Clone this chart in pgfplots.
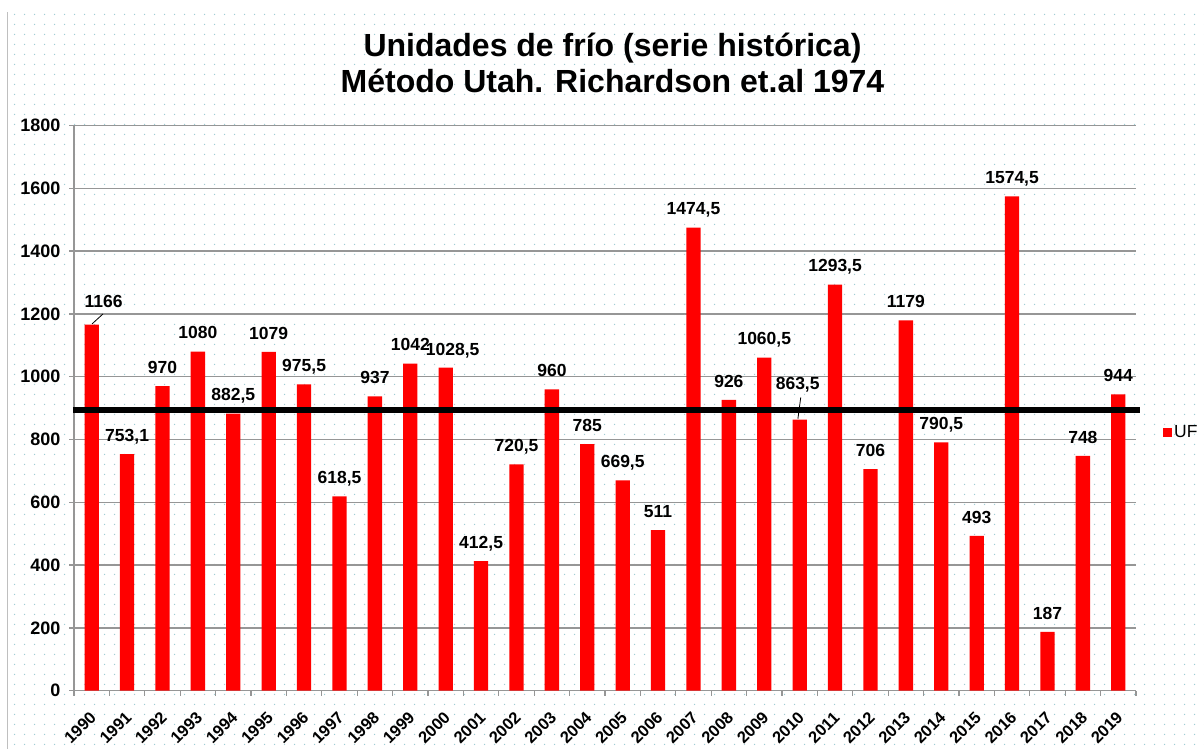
\documentclass[border=0pt]{standalone}
\usepackage{pgfplots}
\pgfplotsset{compat=1.18}
\usepackage{pgfplotstable}
\usepackage{fontspec}
\setmainfont{Liberation Sans}
\usetikzlibrary{patterns}
\pgfdeclarepatternformonly{bgdots}{\pgfqpoint{0pt}{0pt}}{\pgfqpoint{10pt}{10pt}}{\pgfqpoint{10pt}{10pt}}{\pgfpathcircle{\pgfqpoint{5pt}{5pt}}{0.8pt}\pgfusepath{fill}}
\definecolor{dotcol}{RGB}{160,205,212}
\definecolor{gridgray}{RGB}{150,150,150}

\pgfplotstableread{
x y lab dx dy
0 1166 1166 12 4.5
1 753.1 {753,1} 0 0
2 970 970 0 0
3 1080 1080 0 0
4 882.5 {882,5} 0 0
5 1079 1079 0 0
6 975.5 {975,5} 0 0
7 618.5 {618,5} 0 0
8 937 937 0 0
9 1042 1042 0 0
10 1028.5 {1028,5} 7 0
11 412.5 {412,5} 0 0
12 720.5 {720,5} 0 0
13 960 960 0 0
14 785 785 0 0
15 669.5 {669,5} 0 0
16 511 511 0 0
17 1474.5 {1474,5} 0 0
18 926 926 0 0
19 1060.5 {1060,5} 0 0
20 863.5 {863,5} -2 17
21 1293.5 {1293,5} 0 0
22 706 706 0 0
23 1179 1179 0 0
24 790.5 {790,5} 0 0
25 493 493 0 0
26 1574.5 {1574,5} 0 0
27 187 187 0 0
28 748 748 0 0
29 944 944 0 0
}\uf

\begin{document}
\begin{tikzpicture}
\useasboundingbox (0,0) rectangle (1204pt,749pt);
\fill[white] (0,0) rectangle (1204pt,749pt);
\fill[pattern=bgdots, pattern color=dotcol] (7pt,0) rectangle (1204pt,737pt);
\draw[gray!50, line width=1pt] (7pt,0) -- (7pt,737pt);

\node[font=\bfseries\fontsize{32}{38}\selectfont, anchor=base] at (612.5pt,692pt) {Unidades de frío (serie histórica)};
\node[font=\bfseries\fontsize{32}{38}\selectfont, anchor=base] at (612.5pt,656pt) {Método Utah. Richardson et.al 1974};

\begin{axis}[
  at={(74pt,58.3pt)}, anchor=south west,
  scale only axis, width=1062pt, height=565.2pt,
  xmin=-0.5, xmax=29.5, ymin=0, ymax=1800,
  clip=false,
  axis x line*=bottom, axis y line*=left,
  axis line style={-, draw=gridgray, line width=1.3pt},
  ytick={0,200,...,1800},
  ymajorgrids, grid style={draw=gridgray, line width=1.3pt},
  tick align=outside, major tick length=5pt,
  tick style={draw=gridgray, line width=1.3pt},
  xtick={-0.5,0.5,...,29.5}, xticklabels={,},
  extra x ticks={0,1,...,29},
  extra x tick labels={1990,1991,1992,1993,1994,1995,1996,1997,1998,1999,2000,2001,2002,2003,2004,2005,2006,2007,2008,2009,2010,2011,2012,2013,2014,2015,2016,2017,2018,2019},
  extra x tick style={major tick length=0pt, grid=none,
     xticklabel style={font=\bfseries\fontsize{16.5}{18}\selectfont, rotate=45, anchor=east, inner sep=0pt, xshift=-15.8pt, yshift=-18pt}},
  yticklabel style={font=\bfseries\fontsize{18}{20}\selectfont, xshift=-5pt},
  /pgf/number format/assume math mode=true,
  /pgf/number format/1000 sep={},
  legend style={at={(1.0254,0.457)}, anchor=west, draw=none, fill=none,
     font=\fontsize{17.5}{20}\selectfont, inner sep=0pt},
  legend image code/.code={\fill[red] (0pt,-4.5pt) rectangle (9pt,4.5pt);},
]
\addplot[ybar, bar width=14.3pt, fill=red, draw=none,
  point meta=explicit symbolic,
  visualization depends on={\thisrow{dx}\as\dx},
  visualization depends on={\thisrow{dy}\as\dy},
  nodes near coords,
  nodes near coords style={font=\bfseries\fontsize{17.5}{20}\selectfont, text depth=0pt, inner sep=0pt, anchor=south, yshift=12.5pt, xshift=\dx pt, yshift=\dy pt, black},
] table[x=x, y=y, meta=lab] {\uf};
\addlegendentry{UF}
\addplot[black, line width=6.5pt, forget plot] coordinates {(-0.53,894.35) (29.61,894.35)};
\addplot[black, line width=0.8pt, forget plot] coordinates {(0.01,1168) (0.32,1200)};
\addplot[black, line width=0.8pt, forget plot] coordinates {(19.95,866) (20.03,934)};
\end{axis}
\end{tikzpicture}
\end{document}
